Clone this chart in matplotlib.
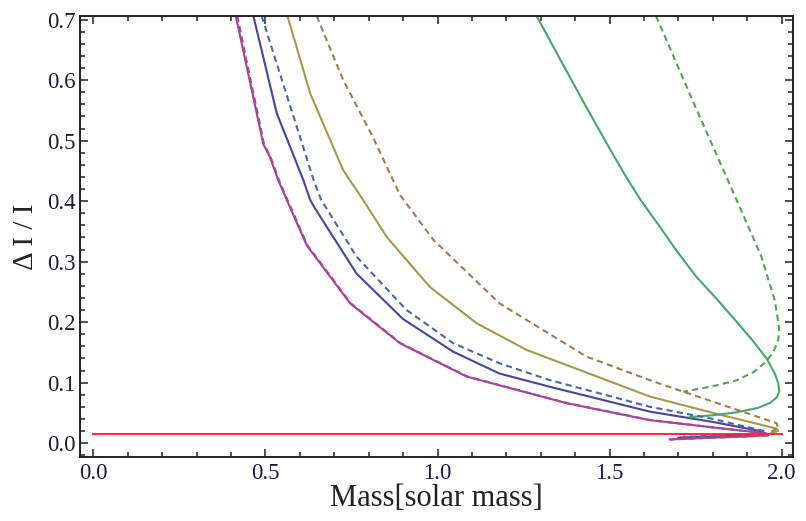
import numpy as np
import matplotlib.pyplot as plt
from matplotlib.ticker import MultipleLocator, FormatStrFormatter

# Krzywe: masa [masy Słońca] i względna zmiana momentu bezwładności
masa_fiolet = [0.414, 0.494, 0.513, 0.537, 0.562, 0.62, 0.746, 0.891, 1.085, 1.375, 1.617, 1.80, 1.956, 1.962, 1.90, 1.80, 1.675]
di_fiolet = [0.706, 0.494, 0.473, 0.435, 0.402, 0.327, 0.231, 0.165, 0.110, 0.066, 0.038, 0.026, 0.016, 0.013, 0.011, 0.009, 0.006]

masa_fiolet2 = [0.418, 0.496, 0.515, 0.539, 0.564, 0.622, 0.748, 0.893, 1.087, 1.377, 1.619, 1.80, 1.958, 1.962, 1.90, 1.80, 1.675]
di_fiolet2 = [0.706, 0.494, 0.473, 0.435, 0.402, 0.327, 0.231, 0.165, 0.110, 0.066, 0.038, 0.026, 0.016, 0.013, 0.011, 0.009, 0.006]

masa_nieb = [0.465, 0.533, 0.61, 0.63, 0.644, 0.765, 0.90, 1.046, 1.18, 1.327, 1.617, 1.80, 1.946, 1.95, 1.85, 1.70]
di_nieb = [0.706, 0.545, 0.435, 0.402, 0.388, 0.28, 0.205, 0.151, 0.115, 0.093, 0.052, 0.035, 0.019, 0.015, 0.012, 0.009]

masa_nieb2 = [0.489, 0.64, 0.662, 0.765, 0.91, 1.046, 1.18, 1.327, 1.617, 1.80, 1.956, 1.96, 1.85, 1.713]
di_nieb2 = [0.706, 0.435, 0.402, 0.308, 0.22, 0.165, 0.132, 0.104, 0.06, 0.04, 0.019, 0.015, 0.013, 0.0104]

masa_oliwka = [0.564, 0.63, 0.726, 0.784, 0.852, 0.978, 1.114, 1.259, 1.617, 1.80, 1.985, 1.99, 1.97]
di_oliwka = [0.706, 0.578, 0.451, 0.402, 0.341, 0.258, 0.198, 0.154, 0.077, 0.05, 0.024, 0.02, 0.017]

masa_braz = [0.649, 0.726, 0.813, 0.891, 0.988, 1.18, 1.433, 1.617, 1.714, 1.985, 1.99, 1.97]
di_braz = [0.706, 0.60, 0.505, 0.41, 0.336, 0.231, 0.143, 0.104, 0.085, 0.033, 0.025, 0.019]

masa_ziel = [1.288, 1.351, 1.421, 1.497, 1.548, 1.59, 1.643, 1.692, 1.752, 1.815, 1.87, 1.915, 1.956, 1.98, 1.99,
             1.993, 1.985, 1.965, 1.93, 1.87, 1.80, 1.733]
di_ziel = [0.706, 0.64, 0.567, 0.49, 0.44, 0.402, 0.36, 0.32, 0.275, 0.236, 0.20, 0.17, 0.14, 0.115, 0.099,
           0.085, 0.075, 0.066, 0.058, 0.051, 0.046, 0.043]

masa_ziel2 = [1.635, 1.75, 1.869, 1.94, 1.98, 1.993, 1.99, 1.975, 1.955, 1.92, 1.87, 1.80, 1.714]
di_ziel2 = [0.706, 0.555, 0.402, 0.31, 0.236, 0.19, 0.17, 0.15, 0.135, 0.118, 0.104, 0.094, 0.085]

# Poziom odniesienia
poziom = 0.0144
zakres_masy = [0.0, 2.0]

plt.rcParams['font.family'] = ['Liberation Serif', 'DejaVu Serif']

fig = plt.figure(figsize=(8.06, 5.21), dpi=100)
ax = fig.add_axes([0.0993, 0.1228, 0.8846, 0.8465])

lw = 1.5
kreski = (3.0, 2.0)

ax.plot(masa_nieb, di_nieb, color='#4545a8', lw=lw)
ax.plot(masa_fiolet, di_fiolet, color='#a8409a', lw=lw)
ax.plot(masa_oliwka, di_oliwka, color='#a89848', lw=lw)
ax.plot(masa_ziel, di_ziel, color='#45a86a', lw=lw)
ax.plot(masa_nieb2, di_nieb2, color='#4568a8', lw=lw, dashes=kreski)
ax.plot(masa_fiolet2, di_fiolet2, color='#a845a0', lw=lw, dashes=kreski)
ax.plot(masa_braz, di_braz, color='#a87a48', lw=lw, dashes=kreski)
ax.plot(masa_ziel2, di_ziel2, color='#4ca848', lw=lw, dashes=kreski)

ax.plot(zakres_masy, [poziom, poziom], color='#ff2828', lw=1.4)

ax.set_xlim(-0.0387, 2.033)
ax.set_ylim(-0.023, 0.706)

ax.xaxis.set_major_locator(MultipleLocator(0.5))
ax.xaxis.set_minor_locator(MultipleLocator(0.1))
ax.yaxis.set_major_locator(MultipleLocator(0.1))
ax.yaxis.set_minor_locator(MultipleLocator(0.02))
ax.xaxis.set_major_formatter(FormatStrFormatter('%.1f'))
ax.yaxis.set_major_formatter(FormatStrFormatter('%.1f'))

ax.tick_params(which='both', direction='in', top=True, right=True, colors='#222222',
               labelcolor='#1c1c3c', labelsize=16.5, width=1.1)
ax.tick_params(which='major', length=6)
ax.tick_params(which='minor', length=3.5)
ax.tick_params(axis='x', pad=4)
ax.tick_params(axis='y', pad=3)

for s in ax.spines.values():
    s.set_linewidth(1.4)
    s.set_color('#222222')

ax.set_xlabel('Mass[solar mass]', fontsize=22, color='#222222', labelpad=0)
ax.set_ylabel('Δ I / I', fontsize=21, color='#222222', labelpad=6)

fig.savefig('out.png', dpi=100)
